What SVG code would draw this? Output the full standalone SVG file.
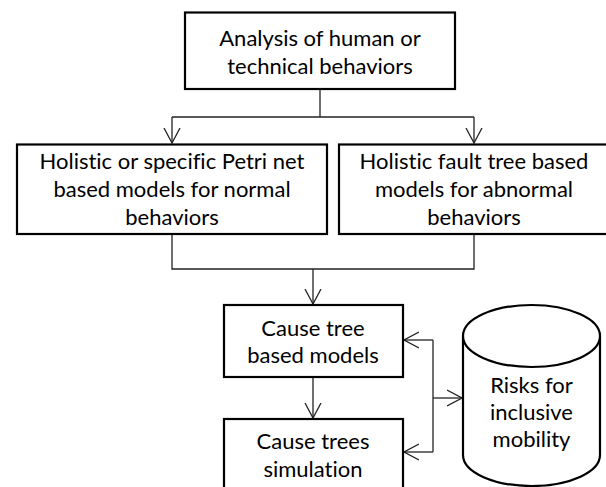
<svg xmlns="http://www.w3.org/2000/svg" width="606" height="487" viewBox="0 0 606 487">
  <defs>
    <style>
      .box { fill: #ffffff; stroke: #000000; stroke-width: 2.2; }
      .lbl { font-family: Lato, "Open Sans", sans-serif; font-size: 22px; fill: #000000; text-anchor: middle; font-variant-ligatures: none; }
      .wire { fill: none; stroke: #222222; stroke-width: 1.3; }
    </style>
    <marker id="vee" viewBox="0 0 16 18" refX="15" refY="9" markerWidth="16" markerHeight="18" markerUnits="userSpaceOnUse" orient="auto">
      <path d="M0,1 L15,9 L0,17" fill="none" stroke="#222222" stroke-width="1.3"/>
    </marker>
  </defs>

  <rect width="606" height="487" fill="#ffffff"/>

  <!-- connectors -->
  <g id="connectors">
    <path class="wire" d="M320,89 V117"/>
    <path class="wire" d="M172,117 H474"/>
    <path class="wire" d="M172,117 V143" marker-end="url(#vee)"/>
    <path class="wire" d="M474,117 V143" marker-end="url(#vee)"/>
    <path class="wire" d="M172,234 V269 H474 V234"/>
    <path class="wire" d="M313,269 V304" marker-end="url(#vee)"/>
    <path class="wire" d="M313,377 V418" marker-end="url(#vee)"/>
    <path class="wire" d="M433,340 V452"/>
    <path class="wire" d="M433,340 H404" marker-end="url(#vee)"/>
    <path class="wire" d="M433,452 H404" marker-end="url(#vee)"/>
    <path class="wire" d="M433,398 H462" marker-end="url(#vee)"/>
  </g>

  <g id="analysis">
    <rect class="box" x="185" y="12.5" width="270" height="76.5"/>
    <text class="lbl" x="320" y="46">Analysis of human or</text>
    <text class="lbl" x="320" y="74">technical behaviors</text>
  </g>

  <g id="petri-models">
    <rect class="box" x="17" y="144.5" width="310" height="89.5"/>
    <text class="lbl" x="172" y="169">Holistic or specific Petri net</text>
    <text class="lbl" x="172" y="197">based models for normal</text>
    <text class="lbl" x="172" y="225">behaviors</text>
  </g>

  <g id="fault-tree-models">
    <rect class="box" x="339" y="144.5" width="272" height="89.5"/>
    <text class="lbl" x="474" y="169">Holistic fault tree based</text>
    <text class="lbl" x="474" y="197">models for abnormal</text>
    <text class="lbl" x="474" y="225">behaviors</text>
  </g>

  <g id="cause-tree-models">
    <rect class="box" x="224" y="305" width="179" height="72"/>
    <text class="lbl" x="313" y="335.5">Cause tree</text>
    <text class="lbl" x="313" y="362.5">based models</text>
  </g>

  <g id="cause-tree-simulation">
    <rect class="box" x="224" y="419" width="179" height="80"/>
    <text class="lbl" x="313" y="449">Cause trees</text>
    <text class="lbl" x="313" y="476.5">simulation</text>
  </g>

  <g id="risks">
    <path class="box" d="M463,336 V455 A68.5,31 0 0 0 600,455 V336 A68.5,31 0 0 0 463,336 Z"/>
    <path class="box" fill="none" d="M463,336 A68.5,31 0 0 0 600,336"/>
    <text class="lbl" x="531.5" y="393">Risks for</text>
    <text class="lbl" x="531.5" y="420">inclusive</text>
    <text class="lbl" x="531.5" y="447">mobility</text>
  </g>
</svg>
